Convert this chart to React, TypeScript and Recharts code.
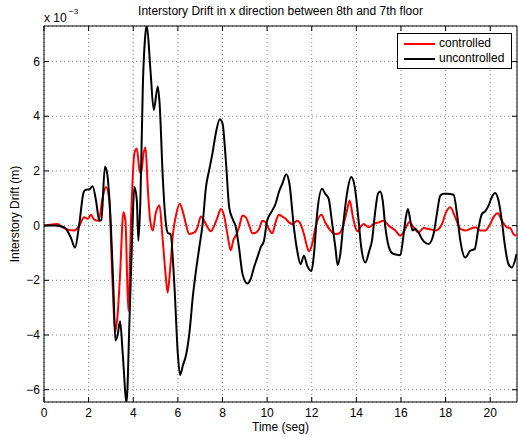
import { LineChart, Line, XAxis, YAxis, CartesianGrid, Legend, ReferenceArea } from 'recharts'

// drift values are in units of 1e-3 m (axis multiplier shown as "x 10^-3")
const uncTime = [
  0, 0.5, 0.9, 1.2, 1.39, 1.58, 1.78, 1.88, 2.03, 2.18, 2.33, 2.48, 2.57, 2.73, 2.82, 3.0, 3.11, 3.2, 3.3, 3.41,
  3.53, 3.7, 3.83, 3.95, 4.05, 4.16, 4.23, 4.32, 4.43, 4.55, 4.61, 4.77, 4.92, 5.1, 5.18, 5.33, 5.45, 5.55, 5.67,
  5.85, 6.0, 6.1, 6.23, 6.37, 6.52, 6.67, 6.82, 6.96, 7.11, 7.26, 7.4, 7.55, 7.7, 7.88, 8.0, 8.15, 8.3, 8.45, 8.6,
  8.74, 8.9, 9.12, 9.26, 9.41, 9.56, 9.71, 9.86, 10.0, 10.23, 10.38, 10.53, 10.68, 10.86, 11.0, 11.2, 11.35, 11.5,
  11.65, 11.8, 11.99, 12.1, 12.24, 12.46, 12.6, 12.76, 12.9, 13.06, 13.16, 13.28, 13.43, 13.58, 13.77, 13.93,
  14.07, 14.22, 14.4, 14.58, 14.7, 14.85, 14.97, 15.07, 15.18, 15.3, 15.52, 15.67, 15.97, 16.12, 16.22, 16.31,
  16.42, 16.52, 16.64, 16.79, 16.94, 17.24, 17.46, 17.61, 17.76, 17.91, 18.06, 18.36, 18.51, 18.66, 18.88, 19.1,
  19.3, 19.48, 19.63, 19.78, 19.93, 20.07, 20.22, 20.37, 20.52, 20.67, 20.82, 20.97, 21.18,
]
const uncDrift = [
  0, 0, -0.06, -0.43, -0.8, 0.06, 1.23, 1.31, 1.33, 1.44, 0.92, 0.18, 0.2, 2.15, 1.96, -0.06, -2.27, -4.2, -4.0, -3.5,
  -4.7, -6.45, -3.5, -0.43, 1.41, 0.92, -0.55, 0.92, 5.1, 7.05, 7.3, 5.7, 4.23, 5.09, 4.48, 1.66, 0.18, -0.27, -0.31,
  -2.27, -4.72, -5.46, -5.1, -4.72, -3.9, -2.6, -1.6, -0.8, 0.06, 1.41, 2.02, 2.64, 3.37, 3.89, 3.74, 2.39, 0.67, 0.25,
  -0.06, -0.8, -1.78, -2.12, -1.96, -1.53, -1.17, -0.8, -0.55, 0.18, 0.55, 0.8, 1.23, 1.53, 1.88, 1.53, -0.06, -0.92,
  -1.41, -1.1, -1.47, -1.66, -1.04, 0.43, 1.35, 1.17, 0.98, 0.18, -0.8, -1.44, -1.04, 0.18, 1.17, 1.78, 1.41, 0.43,
  -0.8, -1.35, -0.92, -0.55, 0.55, 1.17, 1.25, 0.92, -0.06, -0.92, -1.04, -1.08, -0.31, 0.31, 0.61, 0.18, -0.18,
  -0.12, -0.25, -0.49, -0.67, -0.31, 0.43, 1.1, 1.17, 1.17, 1.13, 0.43, -0.55, -1.17, -0.92, -0.86, -0.06, 0.43,
  0.53, 0.74, 1.04, 1.19, 0.92, 0.18, -0.8, -1.41, -1.53, -1.04,
]

const ctrlTime = [
  0, 0.6, 0.83, 1.36, 1.58, 1.8, 1.96, 2.1, 2.25, 2.45, 2.63, 2.78, 2.93, 3.05, 3.2, 3.3, 3.41, 3.56, 3.65, 3.78,
  3.9, 4.05, 4.16, 4.28, 4.35, 4.46, 4.55, 4.65, 4.76, 4.88, 5.0, 5.18, 5.3, 5.45, 5.54, 5.66, 5.78, 5.93, 6.08,
  6.21, 6.36, 6.51, 6.74, 6.88, 7.03, 7.18, 7.33, 7.48, 7.63, 7.78, 7.93, 8.07, 8.22, 8.37, 8.48, 8.6, 8.74, 8.9,
  9.04, 9.2, 9.34, 9.49, 9.64, 9.79, 9.93, 10.08, 10.23, 10.38, 10.53, 10.68, 10.83, 10.98, 11.13, 11.35, 11.5,
  11.65, 11.8, 11.87, 12.02, 12.17, 12.32, 12.44, 12.6, 12.84, 13.06, 13.24, 13.43, 13.58, 13.7, 13.85, 13.97,
  14.07, 14.18, 14.33, 14.55, 14.78, 15.0, 15.22, 15.45, 15.75, 15.97, 16.19, 16.37, 16.57, 16.79, 17.01, 17.24,
  17.54, 17.84, 17.99, 18.21, 18.43, 18.66, 18.88, 19.1, 19.33, 19.55, 19.78, 20.0, 20.15, 20.34, 20.52, 20.75,
  20.9, 21.04, 21.18,
]
const ctrlDrift = [
  0, 0.06, -0.06, -0.18, 0, 0.31, 0.25, 0.4, 0.22, 0.18, 1.04, 1.41, 0.92, -1.66, -3.87, -3.25, -1.78, 0.49, 0.18,
  -3.13, 0.18, 2.64, 2.82, 2.02, 1.9, 2.64, 2.86, 1.41, 0.18, -0.18, 0.43, 0.74, -0.31, -1.78, -2.45, -1.53, -0.31,
  0.43, 0.8, 0.55, 0.06, -0.31, -0.25, -0.06, 0.33, 0.18, -0.06, -0.21, 0, 0.31, 0.61, 0.37, -0.31, -0.9, -0.55,
  -0.37, -0.06, 0.37, 0.31, 0, -0.28, -0.26, -0.12, 0.18, 0.12, -0.12, -0.28, 0.12, 0.4, 0.33, 0.25, 0.12, 0.06,
  0.18, 0.06, -0.31, -0.8, -0.94, -0.67, -0.06, 0.31, 0.4, 0.12, -0.18, -0.31, -0.28, 0.06, 0.55, 0.92, 0.3, -0.1,
  -0.21, -0.06, 0.06, -0.06, 0.06, 0.12, 0.18, 0, -0.18, -0.37, -0.12, 0.12, -0.06, -0.25, -0.09, -0.12, -0.18,
  0.06, 0.43, 0.67, 0.31, -0.12, -0.18, -0.12, -0.06, -0.18, -0.18, 0.06, 0.31, 0.45, 0.18, -0.06, -0.09, -0.31,
  -0.37,
]

const xTicks = [0, 2, 4, 6, 8, 10, 12, 14, 16, 18, 20]
const yTicks = [-6, -4, -2, 0, 2, 4, 6]
const X_MAX = 21.2
const Y_MIN = -6.45
const Y_MAX = 7.3

const uncData = uncTime.map((t, i) => ({ t, v: uncDrift[i] }))
const ctrlData = ctrlTime.map((t, i) => ({ t, v: ctrlDrift[i] }))

const FONT = '"Liberation Sans", Arial, Helvetica, sans-serif'
const PLOT_LEFT = 44
const PLOT_TOP = 26
const PLOT_RIGHT = 517
const PLOT_BOTTOM = 402

function XTick({ x, payload }: any) {
  return (
    <g>
      <line x1={x} x2={x} y1={PLOT_BOTTOM} y2={PLOT_BOTTOM - 5} stroke="#000" />
      <line x1={x} x2={x} y1={PLOT_TOP} y2={PLOT_TOP + 5} stroke="#000" />
      <text x={x} y={PLOT_BOTTOM + 15} textAnchor="middle" fontSize={12} fontFamily={FONT} fill="#000">
        {payload.value}
      </text>
    </g>
  )
}

function YTick({ y, payload }: any) {
  const label = payload.value < 0 ? `\u2212${Math.abs(payload.value)}` : `${payload.value}`
  return (
    <g>
      <line x1={PLOT_LEFT} x2={PLOT_LEFT + 5} y1={y} y2={y} stroke="#000" />
      <line x1={PLOT_RIGHT - 5} x2={PLOT_RIGHT} y1={y} y2={y} stroke="#000" />
      <text x={PLOT_LEFT - 4} y={y + 4} textAnchor="end" fontSize={12} fontFamily={FONT} fill="#000">
        {label}
      </text>
    </g>
  )
}

function LegendBox({ payload }: any) {
  return (
    <div
      style={{
        background: '#fff',
        border: '1px solid #000',
        padding: '2px 4px 2px 5px',
        fontFamily: FONT,
        fontSize: 12,
        lineHeight: '15px',
      }}
    >
      {(payload || []).map((p: any) => (
        <div key={p.value} style={{ display: 'flex', alignItems: 'center' }}>
          <svg width={34} height={15}>
            <line x1={1} x2={32} y1={8} y2={8} stroke={p.color} strokeWidth={2} />
          </svg>
          <span style={{ marginLeft: 2 }}>{p.value}</span>
        </div>
      ))}
    </div>
  )
}

export default function App() {
  return (
    <div style={{ position: 'absolute', left: 0, top: 0, width: 518, height: 437, background: '#fff', fontFamily: FONT }}>
      <div style={{ position: 'absolute', left: PLOT_LEFT, width: PLOT_RIGHT - PLOT_LEFT, top: 4, textAlign: 'center', fontSize: 12, lineHeight: '14px' }}>
        Interstory Drift in x direction between 8th and 7th floor
      </div>
      <div style={{ position: 'absolute', left: 44, top: 11, fontSize: 12, lineHeight: '14px' }}>x 10</div>
      <div style={{ position: 'absolute', left: 69, top: 7, fontSize: 8, lineHeight: '9px' }}>{'\u22123'}</div>
      <div
        style={{
          position: 'absolute',
          left: 15,
          top: 214,
          transform: 'translate(-50%, -50%) rotate(-90deg)',
          whiteSpace: 'nowrap',
          fontSize: 12,
          lineHeight: '14px',
        }}
      >
        Interstory Drift (m)
      </div>
      <div style={{ position: 'absolute', left: PLOT_LEFT, width: PLOT_RIGHT - PLOT_LEFT, top: 420, textAlign: 'center', fontSize: 12, lineHeight: '14px' }}>
        Time (seg)
      </div>
      <LineChart width={518} height={437} margin={{ top: PLOT_TOP, right: 518 - PLOT_RIGHT, bottom: 0, left: 0 }}>
        <CartesianGrid stroke="#888" strokeDasharray="1 3" />
        <XAxis
          type="number"
          dataKey="t"
          domain={[0, X_MAX]}
          ticks={xTicks}
          allowDataOverflow
          height={437 - PLOT_BOTTOM}
          axisLine={false}
          tickLine={false}
          tickSize={0}
          tickMargin={0}
          tick={<XTick />}
          interval={0}
        />
        <YAxis
          type="number"
          dataKey="v"
          domain={[Y_MIN, Y_MAX]}
          ticks={yTicks}
          allowDataOverflow
          width={PLOT_LEFT}
          axisLine={false}
          tickLine={false}
          tickSize={0}
          tickMargin={0}
          tick={<YTick />}
          interval={0}
        />
        <Legend
          layout="vertical"
          align="center"
          verticalAlign="middle"
          content={<LegendBox />}
          wrapperStyle={{ top: 33, left: 397, width: 115, height: 'auto' }}
        />
        <Line
          data={ctrlData}
          dataKey="v"
          name="controlled"
          type="monotone"
          stroke="#ff0000"
          strokeWidth={2}
          dot={false}
          isAnimationActive={false}
        />
        <Line
          data={uncData}
          dataKey="v"
          name="uncontrolled"
          type="monotone"
          stroke="#000000"
          strokeWidth={2}
          dot={false}
          isAnimationActive={false}
        />
        <ReferenceArea x1={0} x2={X_MAX} y1={Y_MIN} y2={Y_MAX} fill="none" stroke="#000" strokeWidth={1} ifOverflow="visible" />
      </LineChart>
    </div>
  )
}
